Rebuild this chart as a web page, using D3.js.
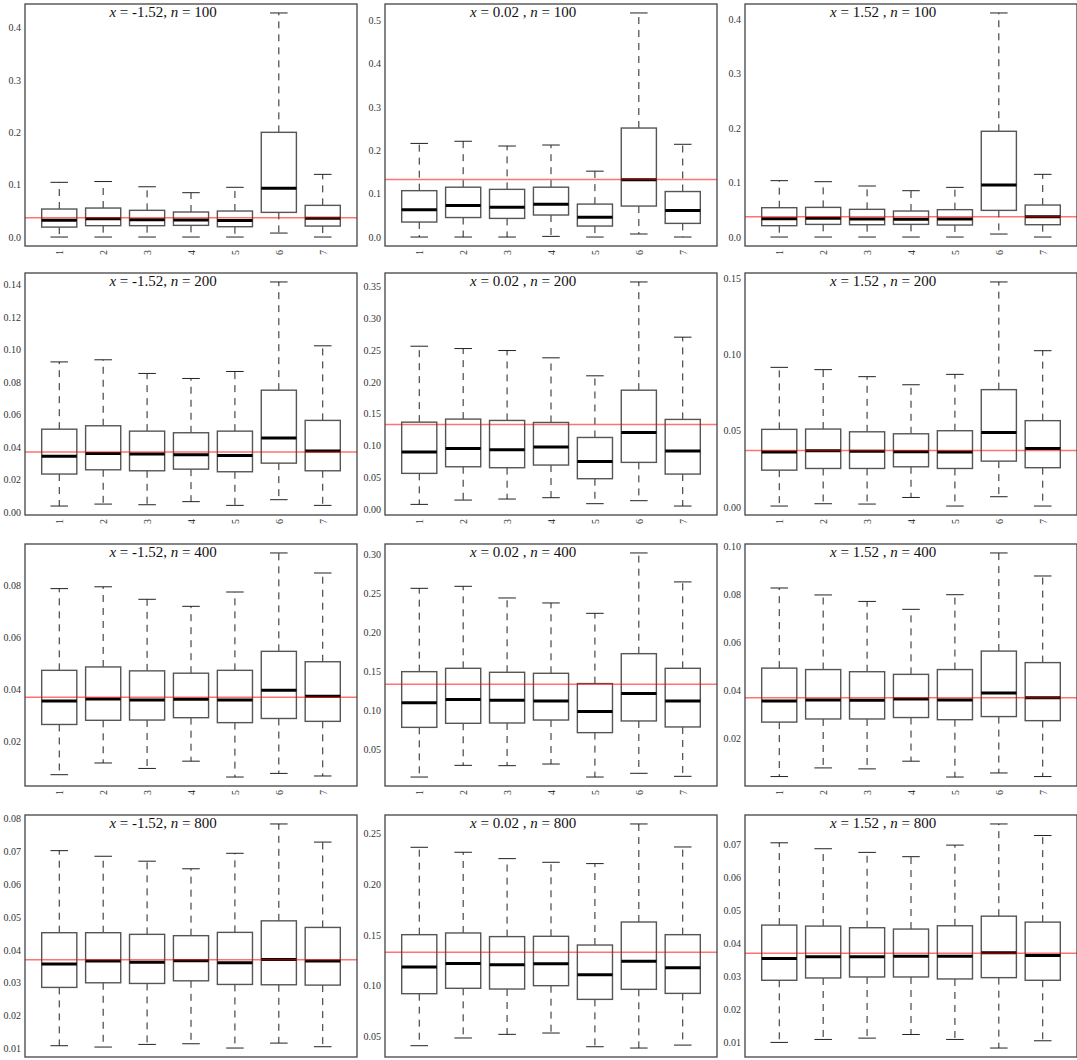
<!DOCTYPE html>
<html>
<head>
<meta charset="utf-8">
<script src="https://cdn.jsdelivr.net/npm/d3@7"></script>
<style>
  body { margin: 0; background: #fff; }
  svg { display: block; }
</style>
</head>
<body>
<div id="chart"></div>
<script>
// panel grid: columns are x values, rows are sample sizes
var xValues = ["-1.52", "0.02", "1.52"];
var nValues = ["100", "200", "400", "800"];
var methods = ["1", "2", "3", "4", "5", "6", "7"];
var trueValues = [0.037, 0.133, 0.037];

// box stats per method: [lower whisker, q1, median, q3, upper whisker]
var boxN100XA = [[0, 0.019, 0.032, 0.0535, 0.1045], [0, 0.0217, 0.035, 0.0554, 0.106], [0, 0.0217, 0.033, 0.051, 0.096],
  [0, 0.0223, 0.0325, 0.0478, 0.0847], [0, 0.0197, 0.0318, 0.0497, 0.095], [0.0076, 0.0471, 0.093, 0.2, 0.428], [0, 0.021, 0.0357, 0.0605, 0.1197]];
var boxN100XB = [[0, 0.0346, 0.063, 0.107, 0.216], [0, 0.045, 0.073, 0.115, 0.221], [0, 0.043, 0.069, 0.11, 0.21],
  [0.0015, 0.0508, 0.0754, 0.115, 0.2123], [0, 0.0254, 0.0454, 0.076, 0.152], [0.007, 0.0715, 0.132, 0.2515, 0.517], [0, 0.0315, 0.061, 0.105, 0.214]];
var boxN100XC = [[0, 0.0208, 0.0336, 0.0538, 0.1034], [0, 0.0232, 0.0343, 0.0544, 0.1015], [0, 0.0226, 0.033, 0.0508, 0.0936],
  [0, 0.0232, 0.0324, 0.0477, 0.085], [0, 0.022, 0.033, 0.0502, 0.0911], [0.0055, 0.0489, 0.0954, 0.194, 0.411], [0, 0.0226, 0.0373, 0.0587, 0.115]];

var boxN200XA = [[0.0037, 0.0234, 0.0344, 0.051, 0.0924], [0.0049, 0.026, 0.0361, 0.0531, 0.0937], [0.0045, 0.0254, 0.0357, 0.0498, 0.0853],
  [0.0064, 0.0264, 0.0353, 0.0488, 0.0822], [0.0041, 0.0248, 0.0348, 0.0498, 0.0865], [0.0076, 0.0301, 0.0455, 0.075, 0.1416], [0.0041, 0.0254, 0.0375, 0.0564, 0.1023]];
var boxN200XB = [[0.0073, 0.0561, 0.0896, 0.1367, 0.2562], [0.0141, 0.0665, 0.0954, 0.1415, 0.2525], [0.0157, 0.065, 0.0933, 0.1394, 0.2494],
  [0.0178, 0.0692, 0.0975, 0.1362, 0.2379], [0.0084, 0.0477, 0.0749, 0.1126, 0.2096], [0.0131, 0.0734, 0.1205, 0.187, 0.3573], [0.0047, 0.055, 0.0912, 0.141, 0.2704]];
var boxN200XC = [[0.0007, 0.0242, 0.036, 0.0509, 0.0915], [0.0022, 0.0253, 0.0369, 0.0511, 0.09], [0.002, 0.0253, 0.0365, 0.0493, 0.0854],
  [0.0063, 0.0264, 0.0362, 0.048, 0.0801], [0.0007, 0.0253, 0.036, 0.05, 0.0869], [0.0068, 0.0301, 0.0489, 0.0769, 0.1474], [0.0007, 0.0258, 0.0384, 0.0566, 0.1024]];

var boxN400XA = [[0.0072, 0.0265, 0.0355, 0.0473, 0.0787], [0.0117, 0.0281, 0.0363, 0.0486, 0.0794], [0.0096, 0.0282, 0.0359, 0.0471, 0.0746],
  [0.0124, 0.0291, 0.0362, 0.0462, 0.0719], [0.0063, 0.0272, 0.0359, 0.0473, 0.0774], [0.0077, 0.0288, 0.0396, 0.0546, 0.0924], [0.0067, 0.0277, 0.0373, 0.0506, 0.0847]];
var boxN400XB = [[0.014, 0.0778, 0.1095, 0.1493, 0.2563], [0.029, 0.083, 0.1134, 0.1536, 0.2589], [0.0286, 0.0834, 0.1125, 0.1485, 0.2439],
  [0.0307, 0.0872, 0.1116, 0.1472, 0.2375], [0.014, 0.071, 0.098, 0.134, 0.2242], [0.0188, 0.086, 0.1211, 0.1724, 0.3017], [0.0149, 0.0783, 0.1116, 0.1536, 0.2645]];
var boxN400XC = [[0.0042, 0.0269, 0.0357, 0.0494, 0.0828], [0.0078, 0.0282, 0.0361, 0.0488, 0.0799], [0.0074, 0.0282, 0.036, 0.0479, 0.0772],
  [0.0106, 0.0288, 0.0365, 0.0468, 0.0739], [0.004, 0.0279, 0.0361, 0.0488, 0.08], [0.0057, 0.0292, 0.039, 0.0565, 0.0974], [0.0042, 0.0275, 0.0371, 0.0517, 0.0878]];

var boxN800XA = [[0.0109, 0.0286, 0.0357, 0.0452, 0.0701], [0.0105, 0.03, 0.0366, 0.0452, 0.0684], [0.0113, 0.0298, 0.0362, 0.0447, 0.0669],
  [0.0115, 0.0306, 0.0367, 0.0443, 0.0646], [0.0102, 0.0295, 0.0361, 0.0453, 0.0693], [0.0117, 0.0294, 0.0371, 0.0488, 0.0782], [0.0106, 0.0293, 0.0366, 0.0468, 0.0727]];
var boxN800XB = [[0.0408, 0.0921, 0.1184, 0.1503, 0.2365], [0.0484, 0.0974, 0.122, 0.152, 0.2316], [0.052, 0.0967, 0.1207, 0.1484, 0.2253],
  [0.0533, 0.1, 0.1217, 0.1487, 0.2217], [0.0398, 0.0865, 0.1109, 0.1401, 0.2204], [0.0385, 0.0964, 0.124, 0.1628, 0.2595], [0.0414, 0.0924, 0.1178, 0.1503, 0.2368]];
var boxN800XC = [[0.01, 0.0288, 0.0354, 0.0455, 0.0704], [0.0109, 0.0295, 0.0359, 0.0452, 0.0686], [0.0113, 0.0298, 0.0359, 0.0447, 0.0675],
  [0.0124, 0.0298, 0.0361, 0.0443, 0.0662], [0.0109, 0.0292, 0.0361, 0.0453, 0.0697], [0.0083, 0.0296, 0.0371, 0.0482, 0.0761], [0.0105, 0.0288, 0.0363, 0.0464, 0.0726]];

// y tick labels per panel (as printed)
var ticksN100XA = ["0.0", "0.1", "0.2", "0.3", "0.4"];
var ticksN100XB = ["0.0", "0.1", "0.2", "0.3", "0.4", "0.5"];
var ticksN100XC = ["0.0", "0.1", "0.2", "0.3", "0.4"];
var ticksN200XA = ["0.00", "0.02", "0.04", "0.06", "0.08", "0.10", "0.12", "0.14"];
var ticksN200XB = ["0.00", "0.05", "0.10", "0.15", "0.20", "0.25", "0.30", "0.35"];
var ticksN200XC = ["0.00", "0.05", "0.10", "0.15"];
var ticksN400XA = ["0.02", "0.04", "0.06", "0.08"];
var ticksN400XB = ["0.05", "0.10", "0.15", "0.20", "0.25", "0.30"];
var ticksN400XC = ["0.02", "0.04", "0.06", "0.08", "0.10"];
var ticksN800XA = ["0.01", "0.02", "0.03", "0.04", "0.05", "0.06", "0.07", "0.08"];
var ticksN800XB = ["0.05", "0.10", "0.15", "0.20", "0.25"];
var ticksN800XC = ["0.01", "0.02", "0.03", "0.04", "0.05", "0.06", "0.07"];

var boxGrid = [[boxN100XA, boxN100XB, boxN100XC], [boxN200XA, boxN200XB, boxN200XC],
               [boxN400XA, boxN400XB, boxN400XC], [boxN800XA, boxN800XB, boxN800XC]];
var tickGrid = [[ticksN100XA, ticksN100XB, ticksN100XC], [ticksN200XA, ticksN200XB, ticksN200XC],
                [ticksN400XA, ticksN400XB, ticksN400XC], [ticksN800XA, ticksN800XB, ticksN800XC]];

// layout
var width = 1077, height = 1060;
var colLeft = [25, 385, 745], panelW = 332;
var rowTop = [4, 273, 544, 815], panelH = 242;
var serif = "'Liberation Serif', serif";

var svg = d3.select("#chart").append("svg")
    .attr("width", width)
    .attr("height", height);
svg.append("rect").attr("width", width).attr("height", height).attr("fill", "#fff");

nValues.forEach(function (n, r) {
    xValues.forEach(function (xv, c) {
        var boxes = boxGrid[r][c];
        var ticks = tickGrid[r][c];
        var g = svg.append("g")
            .attr("transform", "translate(" + colLeft[c] + "," + rowTop[r] + ")");

        // R style axis: 4% padding on each side
        var x = d3.scaleLinear().domain([0.5 - 0.28, methods.length + 0.5 + 0.28]).range([0, panelW]);
        var lo = d3.min(boxes, function (d) { return d[0]; });
        var hi = d3.max(boxes, function (d) { return d[4]; });
        var pad = (hi - lo) * 0.04;
        var y = d3.scaleLinear().domain([lo - pad, hi + pad]).range([panelH, 0]);

        var bw = x(0.8) - x(0), cw = bw / 2;

        var box = g.selectAll(".box").data(boxes).enter().append("g").attr("class", "box")
            .attr("transform", function (d, i) { return "translate(" + x(i + 1) + ",0)"; });

        // whiskers
        box.append("line")
            .attr("y1", function (d) { return y(d[3]); }).attr("y2", function (d) { return y(d[4]); })
            .attr("stroke", "#222").attr("stroke-dasharray", "7,6");
        box.append("line")
            .attr("y1", function (d) { return y(d[1]); }).attr("y2", function (d) { return y(d[0]); })
            .attr("stroke", "#222").attr("stroke-dasharray", "7,6");
        // caps
        [0, 4].forEach(function (k) {
            box.append("line")
                .attr("x1", -cw / 2).attr("x2", cw / 2)
                .attr("y1", function (d) { return y(d[k]); }).attr("y2", function (d) { return y(d[k]); })
                .attr("stroke", "#222");
        });
        box.append("rect")
            .attr("x", -bw / 2).attr("width", bw)
            .attr("y", function (d) { return y(d[3]); })
            .attr("height", function (d) { return y(d[1]) - y(d[3]); })
            .attr("fill", "#fff").attr("stroke", "#555").attr("stroke-width", 1.4);
        box.append("line")
            .attr("x1", -bw / 2).attr("x2", bw / 2)
            .attr("y1", function (d) { return y(d[2]); }).attr("y2", function (d) { return y(d[2]); })
            .attr("stroke", "#000").attr("stroke-width", 3);

        // true value
        g.append("line")
            .attr("x1", 0).attr("x2", panelW)
            .attr("y1", y(trueValues[c])).attr("y2", y(trueValues[c]))
            .attr("stroke", "red").attr("stroke-opacity", 0.55).attr("stroke-width", 1.5);

        // frame
        g.append("rect").attr("width", panelW).attr("height", panelH)
            .attr("fill", "none").attr("stroke", "#444").attr("stroke-width", 1.3);

        // y axis
        var yAxis = g.append("g").call(d3.axisLeft(y)
            .tickValues(ticks.map(Number))
            .tickFormat(function (d, i) { return ticks[i]; })
            .tickSize(0).tickPadding(4));
        yAxis.select(".domain").remove();
        yAxis.selectAll("text").attr("font-family", serif).attr("font-size", 10).attr("fill", "#333");

        // x axis, labels rotated (bottom row falls off the page, as in the original)
        if (r < nValues.length - 1) {
            var xAxis = g.append("g").attr("transform", "translate(0," + panelH + ")")
                .call(d3.axisBottom(x).tickValues(d3.range(1, methods.length + 1))
                    .tickFormat(function (d) { return methods[d - 1]; })
                    .tickSize(0).tickPadding(0));
            xAxis.select(".domain").remove();
            xAxis.selectAll("text")
                .attr("font-family", serif).attr("font-size", 10).attr("fill", "#333")
                .attr("transform", "translate(0,4) rotate(-90)")
                .attr("text-anchor", "end").attr("dy", "0.35em").attr("y", 0).attr("x", 0);
        }

        // title
        var t = g.append("text")
            .attr("x", panelW * 0.416).attr("y", 13)
            .attr("text-anchor", "middle")
            .attr("font-family", "'Liberation Serif', serif").attr("font-size", 15).attr("fill", "#111");
        t.append("tspan").attr("font-style", "italic").text("x");
        t.append("tspan").text(" = " + xv + (c === 0 ? ", " : " , "));
        t.append("tspan").attr("font-style", "italic").text("n");
        t.append("tspan").text(" = " + n);
    });
});
</script>
</body>
</html>
